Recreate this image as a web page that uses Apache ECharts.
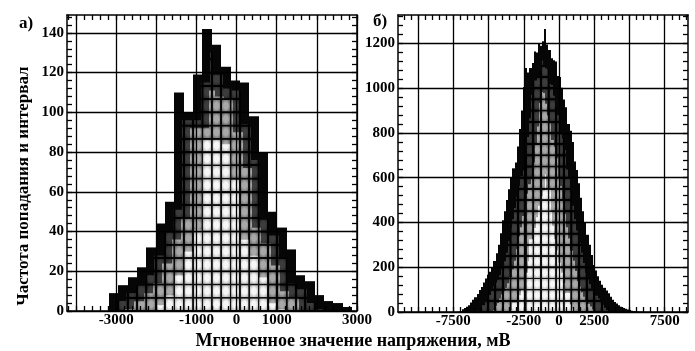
<!DOCTYPE html>
<html>
<head>
<meta charset="utf-8">
<script src="https://cdn.jsdelivr.net/npm/echarts@6/dist/echarts.min.js"></script>
<style>
  html, body { margin: 0; padding: 0; background: #fff; }
  #chart { width: 695px; height: 351px; }
</style>
</head>
<body>
<div id="chart"></div>
<script>
// панель а)
const leftStart = -3180;
const leftBin = 233;
const leftCounts = [9, 13, 17, 22, 32, 44, 55, 110, 100, 119, 142, 134, 123, 116, 115, 98, 80, 50, 42, 31, 18, 15, 8, 5, 4, 2];
const leftXMajor = [-4000, -3000, -2000, -1000, 0, 1000, 2000, 3000];
const leftXLabels = [-3000, -1000, 0, 1000, 3000];
const leftYMajor = [0, 20, 40, 60, 80, 100, 120, 140];

// панель б)
const rightStart = -7200;
const rightBin = 150;
const rightCounts = [1, 3, 12, 18, 24, 30, 42, 55, 66, 80,
  98, 112, 132, 150, 166, 180, 200, 228, 262, 300,
  352, 410, 450, 500, 548, 600, 642, 668, 740, 818,
  900, 1005, 1090, 1070, 1090, 1112, 1164, 1160, 1200, 1190,
  1210, 1264, 1195, 1171, 1134, 1125, 1119, 1055, 1050, 1002,
  950, 915, 840, 810, 760, 672, 635, 575, 510, 450,
  400, 345, 300, 255, 210, 185, 160, 140, 122, 108,
  96, 84, 68, 55, 45, 38, 30, 24, 18, 14,
  11, 9, 6, 4, 3, 2, 1, 1];
const rightXMajor = [-10000, -7500, -5000, -2500, 0, 2500, 5000, 7500];
const rightXLabels = [-7500, -2500, 0, 2500, 7500];
const rightYMajor = [0, 200, 400, 600, 800, 1000, 1200];

const serif = 'Liberation Serif';

function steps(from, to, step) {
  const out = [];
  for (let v = from; v <= to + 1e-9; v += step) out.push(v);
  return out;
}

function makeTile(lv, cw, ch) {
  const c = document.createElement('canvas');
  c.width = 40; c.height = 40;
  const g = c.getContext('2d');
  const rg = g.createRadialGradient(20, 20, 0, 20, 20, 28);
  rg.addColorStop(0, lv.center);
  rg.addColorStop(0.35, lv.center);
  rg.addColorStop(1, lv.edge);
  g.fillStyle = rg;
  g.fillRect(0, 0, 40, 40);
  g.fillStyle = lv.line;
  const tx = 40 * lv.lw / cw / 2, ty = 40 * lv.lw / ch / 2;
  g.fillRect(0, 0, tx, 40); g.fillRect(40 - tx, 0, tx, 40);
  g.fillRect(0, 0, 40, ty); g.fillRect(0, 40 - ty, 40, ty);
  return c;
}

// чёрные столбцы + "размытая" светлая сердцевина (эрозия контура)
function makeRender(counts, start, bin, cell, levels) {
  let pats = null;
  return function (params, api) {
    const i = params.dataIndex;
    const base = api.coord([start, 0])[1];
    const edge = k => Math.round(api.coord([start + k * bin, 0])[0]);
    const top = j => (j < 0 || j >= counts.length) ? base : api.coord([start, counts[j]])[1];
    if (!pats) {
      const ox = api.coord([cell.x0, 0])[0];
      const cw = api.coord([cell.x0 + cell.w, 0])[0] - ox;
      const ch = base - api.coord([start, cell.h])[1];
      pats = levels.map(lv => ({
        image: makeTile(lv, cw, ch), repeat: 'repeat',
        x: ox, y: base, scaleX: cw / 40, scaleY: ch / 40
      }));
    }
    const x0 = edge(i), x1 = edge(i + 1);
    const binPx = Math.max(1, x1 - x0);
    const kids = [{
      type: 'rect',
      shape: { x: x0, y: top(i), width: x1 - x0, height: base - top(i) },
      style: { fill: '#060606' }
    }];
    levels.forEach((lv, n) => {
      const reach = Math.ceil(lv.d / binPx) + 2;
      const pts = [];
      let any = false;
      for (let x = x0; x < x1; x++) {
        let low = -Infinity;
        for (let j = i - reach; j <= i + reach; j++) {
          if (edge(j) < x + 1 + lv.d && edge(j + 1) > x - lv.d) low = Math.max(low, top(j));
        }
        const y = Math.min(base, low + lv.d);
        if (y < base) any = true;
        pts.push([x, y], [x + 1, y]);
      }
      if (!any) return;
      pts.push([x1, base], [x0, base]);
      kids.push({ type: 'polygon', shape: { points: pts }, style: { fill: pats[n] } });
    });
    return { type: 'group', children: kids };
  };
}

const labelFont = { color: '#000', fontFamily: serif, fontSize: 15, fontWeight: 'bold', formatter: v => String(v) };
const blackLine = { color: '#000', width: 1.5 };

function xAxes(grid, min, max, major, labels, minor) {
  const common = { gridIndex: grid, type: 'value', min: min, max: max, z: 5 };
  return [
    Object.assign({}, common, {
      position: 'bottom',
      axisLine: { show: false, onZero: false },
      axisTick: { show: false, customValues: major },
      axisLabel: Object.assign({ customValues: labels, margin: 2 }, labelFont),
      splitLine: { show: true, lineStyle: { color: '#000', width: 1.3 } }
    }),
    Object.assign({}, common, {
      position: 'bottom',
      axisLine: { show: true, onZero: false, lineStyle: blackLine },
      axisTick: { show: true, inside: true, length: 5, customValues: minor, lineStyle: { color: '#000', width: 1.3 } },
      axisLabel: { show: false },
      splitLine: { show: false }
    }),
    Object.assign({}, common, {
      position: 'top',
      axisLine: { show: true, onZero: false, lineStyle: blackLine },
      axisTick: { show: true, inside: true, length: 5, customValues: minor, lineStyle: { color: '#000', width: 1.3 } },
      axisLabel: { show: false },
      splitLine: { show: false }
    })
  ];
}

function yAxes(grid, max, major, minor) {
  const common = { gridIndex: grid, type: 'value', min: 0, max: max, z: 5 };
  return [
    Object.assign({}, common, {
      position: 'left',
      axisLine: { show: false, onZero: false },
      axisTick: { show: false, customValues: major },
      axisLabel: Object.assign({ customValues: major, margin: 3 }, labelFont),
      splitLine: { show: true, lineStyle: { color: '#000', width: 1.3 } }
    }),
    Object.assign({}, common, {
      position: 'left',
      axisLine: { show: true, onZero: false, lineStyle: blackLine },
      axisTick: { show: true, inside: true, length: 5, customValues: minor, lineStyle: { color: '#000', width: 1.3 } },
      axisLabel: { show: false },
      splitLine: { show: false }
    }),
    Object.assign({}, common, {
      position: 'right',
      axisLine: { show: true, onZero: false, lineStyle: blackLine },
      axisTick: { show: true, inside: true, length: 5, customValues: minor, lineStyle: { color: '#000', width: 1.3 } },
      axisLabel: { show: false },
      splitLine: { show: false }
    })
  ];
}

const leftLevels = [
  { d: 8, center: '#3c3c3c', edge: '#161616', line: '#000', lw: 2 },
  { d: 16, center: '#a8a8a8', edge: '#404040', line: '#060606', lw: 1.8 },
  { d: 28, center: '#f6f6f6', edge: '#8a8a8a', line: '#101010', lw: 1.6 }
];
const rightLevels = [
  { d: 8, center: '#3c3c3c', edge: '#161616', line: '#000', lw: 2 },
  { d: 16, center: '#a8a8a8', edge: '#404040', line: '#060606', lw: 1.8 },
  { d: 28, center: '#f6f6f6', edge: '#8a8a8a', line: '#101010', lw: 1.6 }
];

const chart = echarts.init(document.getElementById('chart'));

chart.setOption({
  animation: false,
  backgroundColor: '#fff',
  grid: [
    { left: 67, top: 15, width: 290, height: 296 },
    { left: 398, top: 15, width: 290, height: 297 }
  ],
  xAxis: [].concat(
    xAxes(0, -4225, 3000, leftXMajor, leftXLabels, steps(-4200, 3000, 200)),
    xAxes(1, -11420, 9150, rightXMajor, rightXLabels, steps(-11000, 9000, 500))
  ),
  yAxis: [].concat(
    yAxes(0, 149, leftYMajor, steps(0, 148, 4)),
    yAxes(1, 1327, rightYMajor, steps(0, 1320, 40))
  ),
  series: [
    {
      type: 'custom', xAxisIndex: 0, yAxisIndex: 0, silent: true,
      data: leftCounts.map((c, k) => [leftStart + k * leftBin, leftStart + (k + 1) * leftBin, c]),
      encode: { x: [0, 1], y: 2 },
      renderItem: makeRender(leftCounts, leftStart, leftBin, { x0: leftStart, w: leftBin, h: 20 / 3 }, leftLevels)
    },
    {
      type: 'custom', xAxisIndex: 3, yAxisIndex: 3, silent: true,
      data: rightCounts.map((c, k) => [rightStart + k * rightBin, rightStart + (k + 1) * rightBin, c]),
      encode: { x: [0, 1], y: 2 },
      renderItem: makeRender(rightCounts, rightStart, rightBin, { x0: -2360, w: 540, h: 50 }, rightLevels)
    }
  ],
  graphic: [
    { type: 'text', x: 26, y: 24, style: { text: 'а)', font: 'bold 17px "Liberation Serif"', fill: '#000', align: 'center', verticalAlign: 'middle' } },
    { type: 'text', x: 380, y: 22, style: { text: 'б)', font: 'bold 17px "Liberation Serif"', fill: '#000', align: 'center', verticalAlign: 'middle' } },
    { type: 'text', x: 24, y: 186, rotation: Math.PI / 2, style: { text: 'Частота попадания и интервал', font: 'bold 17px "Liberation Serif"', fill: '#000', align: 'center', verticalAlign: 'middle' } },
    { type: 'text', x: 353, y: 341, style: { text: 'Мгновенное значение напряжения, мВ', font: 'bold 18px "Liberation Serif"', fill: '#000', align: 'center', verticalAlign: 'middle' } }
  ]
});

window.addEventListener('resize', () => chart.resize());
</script>
</body>
</html>
